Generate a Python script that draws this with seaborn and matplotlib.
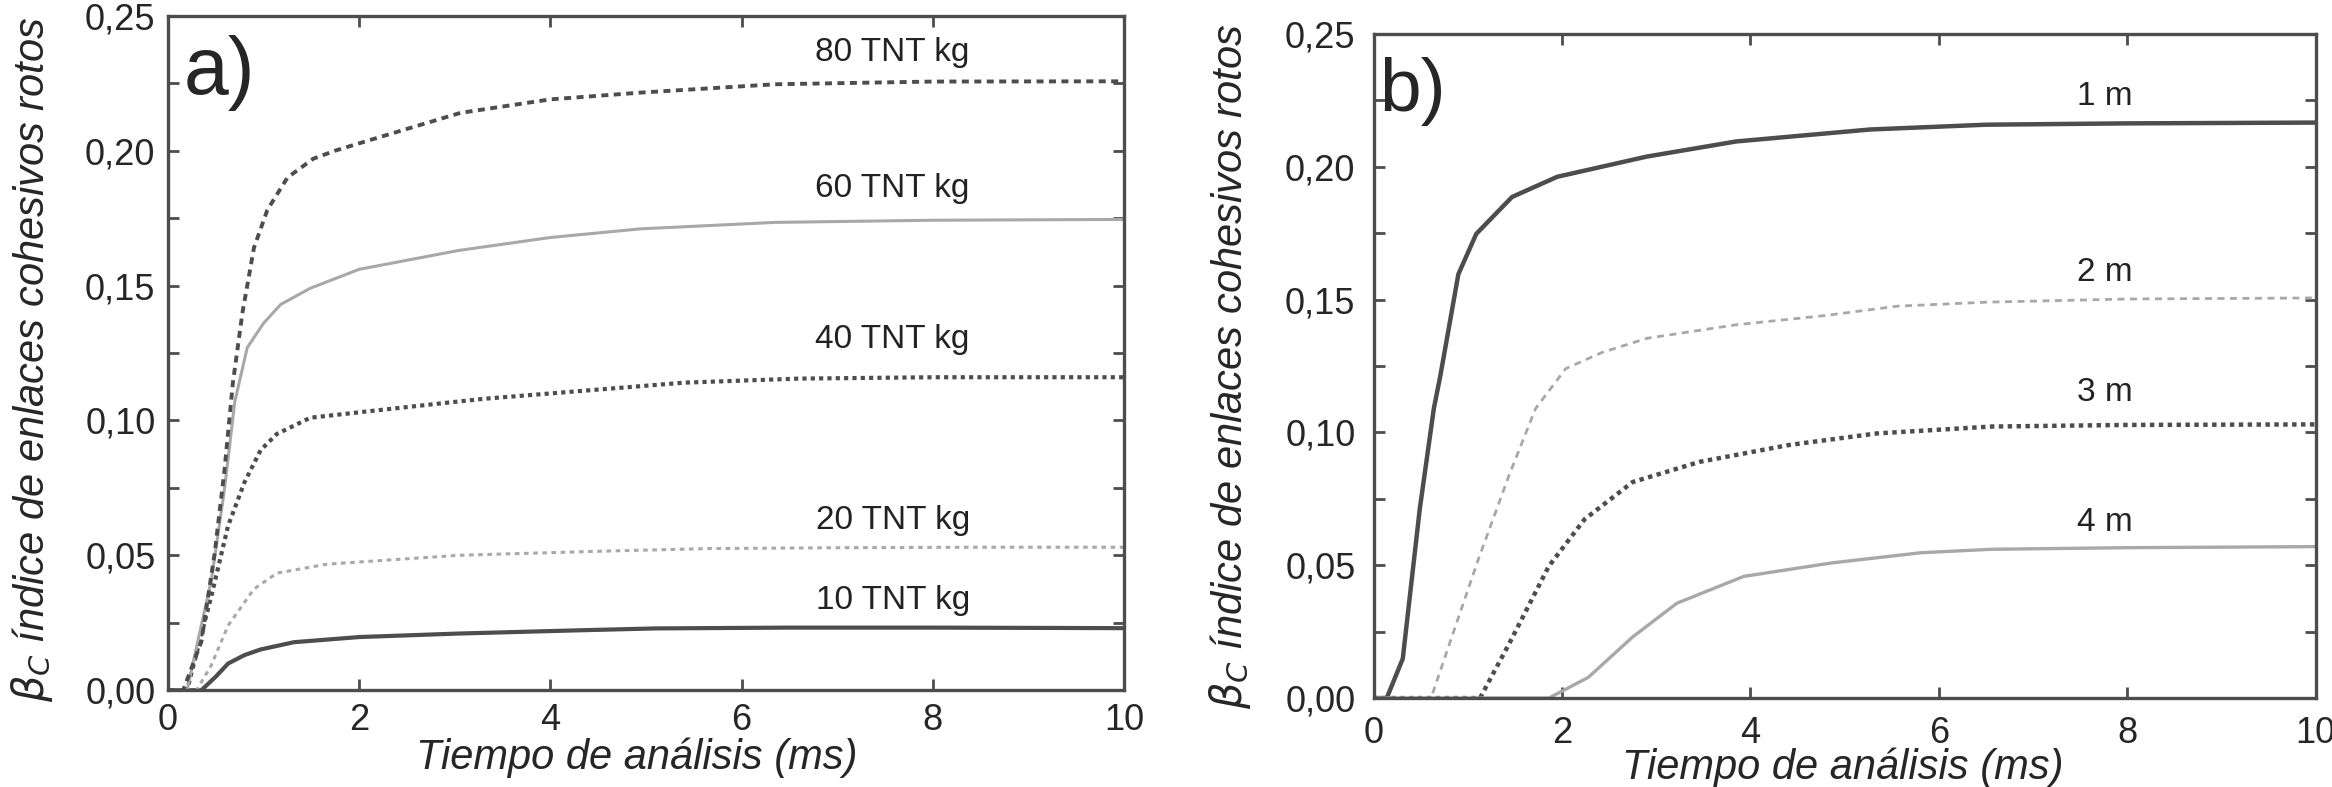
import matplotlib
matplotlib.use("Agg")
import matplotlib.pyplot as plt
import matplotlib.ticker as mticker
import seaborn as sns
import pandas as pd

# Panel a) - TNT charge (values read from the reference)
t_10kg = [0, 0.35, 0.5, 0.63, 0.8, 0.97, 1.32, 2.0, 3.04, 4.3, 5.1, 6.5, 8.0, 10]
b_10kg = [0, 0, 0.005, 0.0099, 0.013, 0.0151, 0.0178, 0.0197, 0.021, 0.0222, 0.0229, 0.0232, 0.0232, 0.0230]

t_20kg = [0, 0.3, 0.45, 0.63, 0.9, 1.14, 1.66, 2.2, 3.04, 4.5, 5.66, 7.0, 8.5, 10]
b_20kg = [0, 0, 0.009, 0.024, 0.0375, 0.0434, 0.0467, 0.048, 0.050, 0.0515, 0.0525, 0.0528, 0.053, 0.053]

t_40kg = [0, 0.2, 0.455, 0.63, 0.8, 0.97, 1.14, 1.49, 2.0, 2.59, 3.3, 4.0, 4.7, 5.4, 6.6, 8.0, 10]
b_40kg = [0, 0, 0.035, 0.061, 0.077, 0.089, 0.095, 0.101, 0.103, 0.1053, 0.108, 0.110, 0.112, 0.114, 0.1155, 0.116, 0.116]

t_60kg = [0, 0.2, 0.455, 0.59, 0.70, 0.83, 1.0, 1.18, 1.49, 2.0, 3.04, 4.0, 4.94, 6.35, 8.0, 10]
b_60kg = [0, 0, 0.041, 0.074, 0.107, 0.127, 0.136, 0.143, 0.149, 0.156, 0.163, 0.1678, 0.171, 0.1734, 0.1742, 0.1745]

t_80kg = [0, 0.16, 0.35, 0.49, 0.59, 0.68, 0.78, 0.9, 1.04, 1.25, 1.52, 1.75, 2.12, 3.06, 4.0, 4.94, 6.35, 8.0, 10]
b_80kg = [0, 0, 0.018, 0.051, 0.081, 0.114, 0.140, 0.164, 0.178, 0.190, 0.197, 0.200, 0.204, 0.214, 0.219, 0.2215, 0.2246, 0.2256, 0.2257]

# Panel b) - distance
t_1m = [0, 0.14, 0.31, 0.49, 0.64, 0.71, 0.9, 1.09, 1.47, 1.95, 2.9, 3.85, 5.27, 6.5, 8.0, 10]
b_1m = [0, 0, 0.0148, 0.071, 0.109, 0.1215, 0.1595, 0.1747, 0.1886, 0.1962, 0.2038, 0.2095, 0.214, 0.2158, 0.2163, 0.2166]

t_2m = [0, 0.61, 0.85, 1.11, 1.44, 1.72, 2.04, 2.42, 2.9, 3.85, 4.8, 5.56, 6.5, 8.0, 10]
b_2m = [0, 0, 0.025, 0.052, 0.084, 0.109, 0.124, 0.130, 0.1354, 0.1405, 0.144, 0.1475, 0.149, 0.1502, 0.1506]

t_3m = [0, 1.13, 1.44, 1.86, 2.24, 2.75, 3.46, 4.4, 5.34, 6.56, 8.0, 10]
b_3m = [0, 0, 0.0205, 0.0496, 0.0673, 0.0813, 0.0889, 0.0952, 0.0996, 0.1022, 0.1028, 0.103]

t_4m = [0, 1.86, 2.28, 2.75, 3.22, 3.93, 4.87, 5.81, 6.56, 8.0, 10]
b_4m = [0, 0, 0.0078, 0.023, 0.0357, 0.0458, 0.0509, 0.0547, 0.056, 0.0566, 0.057]

labels_a = ["10 TNT kg", "20 TNT kg", "40 TNT kg", "60 TNT kg", "80 TNT kg"]
label_y_a = [0.0333, 0.063, 0.130, 0.186, 0.2365]
labels_b = ["1 m", "2 m", "3 m", "4 m"]
label_y_b = [0.2265, 0.160, 0.115, 0.066]

y_ticks = [0.0, 0.05, 0.10, 0.15, 0.20, 0.25]
x_ticks = [0, 2, 4, 6, 8, 10]

dark = "#4d4d4d"
light = "#a8a8a8"

sns.set_style("ticks")
plt.rcParams['font.family'] = ['Liberation Sans', 'DejaVu Sans']

fig = plt.figure(figsize=(23.32, 7.87), dpi=100)
ax_a = fig.add_axes([0.072, 0.123, 0.410, 0.857])
ax_b = fig.add_axes([0.589, 0.113, 0.404, 0.844])

series_a = [
    (t_10kg, b_10kg, dark, "-", 3.0),
    (t_20kg, b_20kg, light, (0, (1.5, 1.5)), 2.2),
    (t_40kg, b_40kg, dark, (0, (1, 1)), 3.0),
    (t_60kg, b_60kg, light, "-", 2.2),
    (t_80kg, b_80kg, dark, (0, (1.8, 1.4)), 2.8),
]
series_b = [
    (t_1m, b_1m, dark, "-", 3.2),
    (t_2m, b_2m, light, (0, (2.5, 2)), 2.0),
    (t_3m, b_3m, dark, (0, (1, 1)), 3.2),
    (t_4m, b_4m, light, "-", 2.4),
]

for ax, series in [(ax_a, series_a), (ax_b, series_b)]:
    for t, v, c, ls, lw in series:
        df = pd.DataFrame({"t": t, "beta": v})
        sns.lineplot(data=df, x="t", y="beta", ax=ax, color=c, linestyle=ls, linewidth=lw)

fmt = mticker.FuncFormatter(lambda v, p: f"{v:.2f}".replace(".", ","))
for ax in [ax_a, ax_b]:
    ax.set_xlim(0, 10)
    ax.set_ylim(0, 0.25)
    ax.set_xticks(x_ticks)
    ax.set_yticks(y_ticks)
    ax.yaxis.set_minor_locator(mticker.MultipleLocator(0.025))
    ax.yaxis.set_major_formatter(fmt)
    ax.tick_params(which="both", direction="in", top=True, right=True,
                   length=8, width=2, color=dark)
    for s in ax.spines.values():
        s.set_color(dark)
        s.set_linewidth(2.4)

ylab = r"$\beta_C$ índice de enlaces cohesivos rotos"

# panel a
ax_a.tick_params(axis="both", labelsize=26, pad=9)
ax_a.set_xlabel("Tiempo de análisis (ms)", style="italic", fontsize=30)
ax_a.set_ylabel(ylab, style="italic", fontsize=30)
ax_a.xaxis.set_label_coords(0.49, -0.07)
ax_a.yaxis.set_label_coords(-0.118, 0.49)
ax_a.text(0.016, 0.915, "a)", transform=ax_a.transAxes, fontsize=58, va="center", ha="left")
for lab, y in zip(labels_a, label_y_a):
    ax_a.text(7.58, y, lab, fontsize=24, ha="center", va="center", color="#222222")

# panel b
ax_b.tick_params(axis="both", labelsize=26, pad=13)
ax_b.set_xlabel("Tiempo de análisis (ms)", style="italic", fontsize=30)
ax_b.set_ylabel(ylab, style="italic", fontsize=30)
ax_b.xaxis.set_label_coords(0.498, -0.075)
ax_b.yaxis.set_label_coords(-0.128, 0.5)
ax_b.text(0.006, 0.913, "b)", transform=ax_b.transAxes, fontsize=54, va="center", ha="left")
for lab, y in zip(labels_b, label_y_b):
    ax_b.text(7.76, y, lab, fontsize=24, ha="center", va="center", color="#222222")

fig.savefig("out.png", dpi=100)
